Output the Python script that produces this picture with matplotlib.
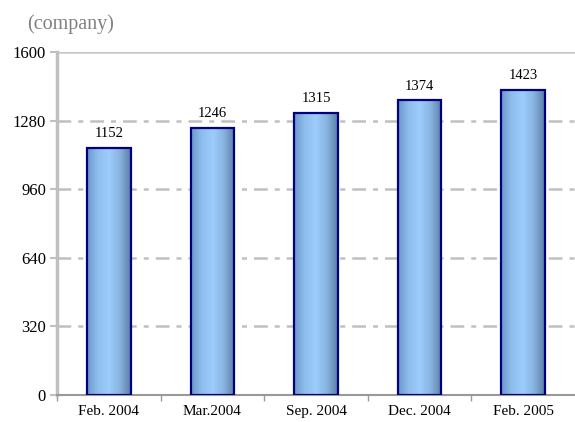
import matplotlib
matplotlib.use("Agg")
import matplotlib.pyplot as plt
import numpy as np
from matplotlib.colors import LinearSegmentedColormap

categories = ["Feb. 2004", "Mar.2004", "Sep. 2004", "Dec. 2004", "Feb. 2005"]
values = [1152, 1246, 1315, 1374, 1423]
yticks = [0, 320, 640, 960, 1280, 1600]
unit_label = "(company)"

plt.rcParams["font.family"] = ["Liberation Serif", "DejaVu Serif"]

fig = plt.figure(figsize=(5.75, 4.22), dpi=100)
ax = fig.add_axes([57 / 575, 27 / 422, 518 / 575, 343 / 422])

x = np.arange(len(categories))
width = 0.42
bars = ax.bar(x, values, width=width, facecolor="none", edgecolor="#000080",
              linewidth=1.6, zorder=4)

# horizontal gradient inside each bar
cmap = LinearSegmentedColormap.from_list(
    "barfill", ["#6d98c8", "#8fbeee", "#9ccdfd", "#88b3df", "#5a7ea6"])
grad = np.linspace(0, 1, 256).reshape(1, -1)
for b in bars:
    x0, w, h = b.get_x(), b.get_width(), b.get_height()
    ax.imshow(grad, cmap=cmap, aspect="auto", extent=(x0, x0 + w, 0, h),
              zorder=3, interpolation="bilinear")

for xi, v in zip(x, values):
    ax.text(xi, v + 36, str(v), ha="center", va="bottom", fontsize=10.5)

ax.set_xlim(-0.5, len(categories) - 0.5)
ax.set_ylim(0, 1600)
ax.set_yticks(yticks)
ax.set_yticklabels([str(t) for t in yticks], fontsize=12)
ax.set_xticks(x)
ax.set_xticklabels(categories, fontsize=11)
ax.set_xticks(np.arange(len(categories)) - 0.5, minor=True)
ax.tick_params(axis="x", which="major", length=0, pad=7)
ax.tick_params(axis="x", which="minor", length=4, color="#999999", width=1)
ax.tick_params(axis="y", length=5, color="#c0c0c0", width=1.5, pad=3)

for t in yticks[1:-1]:
    ax.axhline(t, color="#c0c0c0", linewidth=1.8,
               linestyle=(0, (5.5, 2.8, 2, 2.8)), zorder=1)
ax.axhline(1600, color="#c8c8c8", linewidth=1.8, zorder=1)

for side in ["top", "right"]:
    ax.spines[side].set_visible(False)
ax.spines["left"].set_color("#c0c0c0")
ax.spines["left"].set_linewidth(2.5)
ax.spines["bottom"].set_color("#999999")
ax.spines["bottom"].set_linewidth(1.5)

fig.text(27 / 575, 1 - 24 / 422, unit_label, fontsize=14.5, color="#808080",
         ha="left", va="center")

fig.savefig("out.png", dpi=100)
